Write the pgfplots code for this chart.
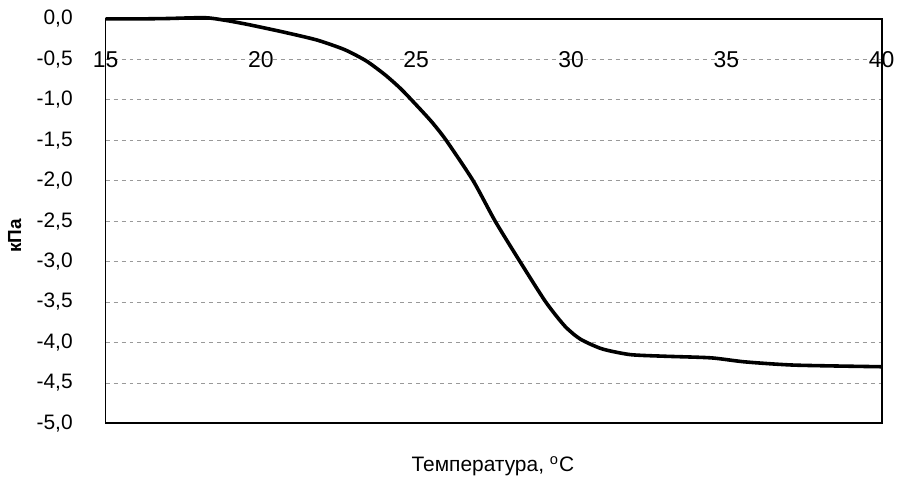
\documentclass[border=0pt]{standalone}
\usepackage{pgfplots}
\pgfplotsset{compat=1.18}
\usepackage{fontspec}
\setmainfont{Liberation Sans}
\begin{document}
\begin{tikzpicture}
\begin{axis}[
  scale only axis,
  width=389.5pt, height=203pt,
  xmin=15, xmax=40, ymin=-5, ymax=0,
  xtick={15,20,25,30,35,40},
  ytick={0,-0.5,-1,-1.5,-2,-2.5,-3,-3.5,-4,-4.5,-5},
  yticklabels={{0,0},{-0,5},{-1,0},{-1,5},{-2,0},{-2,5},{-3,0},{-3,5},{-4,0},{-4,5},{-5,0}},
  xticklabels={15,20,25,30,35,40},
  major tick length=0pt,
  axis line style={line width=0.9pt},
  ymajorgrids,
  major grid style={gray!80, dash pattern=on 2pt off 2pt, line width=0.35pt},
  xticklabel pos=upper,
  xticklabel style={font=\fontsize{11.5}{13}\selectfont, anchor=center, yshift=-20.3pt},
  yticklabel style={font=\fontsize{10.5}{12}\selectfont, xshift=-13pt},
  xlabel={Температура, \textsuperscript{o}C},
  ylabel={\textbf{кПа}},
  every axis x label/.style={at={(axis description cs:0.499,-0.106)}, anchor=center, font=\fontsize{10.5}{12}\selectfont},
  every axis y label/.style={at={(axis description cs:-0.117,0.463)}, anchor=center, rotate=90, font=\fontsize{9.5}{11}\selectfont},
  clip=false,
]
\addplot[black, line width=1.8pt, smooth, tension=0.4] coordinates {
(15,0) (16,0) (17,0.005) (18.2,0.015) (18.9,-0.02) (19.6,-0.07) (20.7,-0.16)
(21.8,-0.26) (22.7,-0.38) (23.4,-0.52) (24.0,-0.69) (24.5,-0.86) (24.95,-1.04) (25.5,-1.27)
(25.97,-1.5) (26.84,-2.0) (27.55,-2.5) (28.35,-3.0) (29.18,-3.5) (29.8,-3.8)
(30.3,-3.96) (31.0,-4.08) (31.9,-4.15) (33,-4.17) (34.5,-4.19) (35.6,-4.24)
(37.2,-4.28) (40,-4.3)
};
\coordinate (bl) at (axis cs:11.598,-5.764);
\coordinate (tr) at (axis cs:40.513,0.234);
\end{axis}
\path (bl) rectangle (tr);
\end{tikzpicture}
\end{document}
